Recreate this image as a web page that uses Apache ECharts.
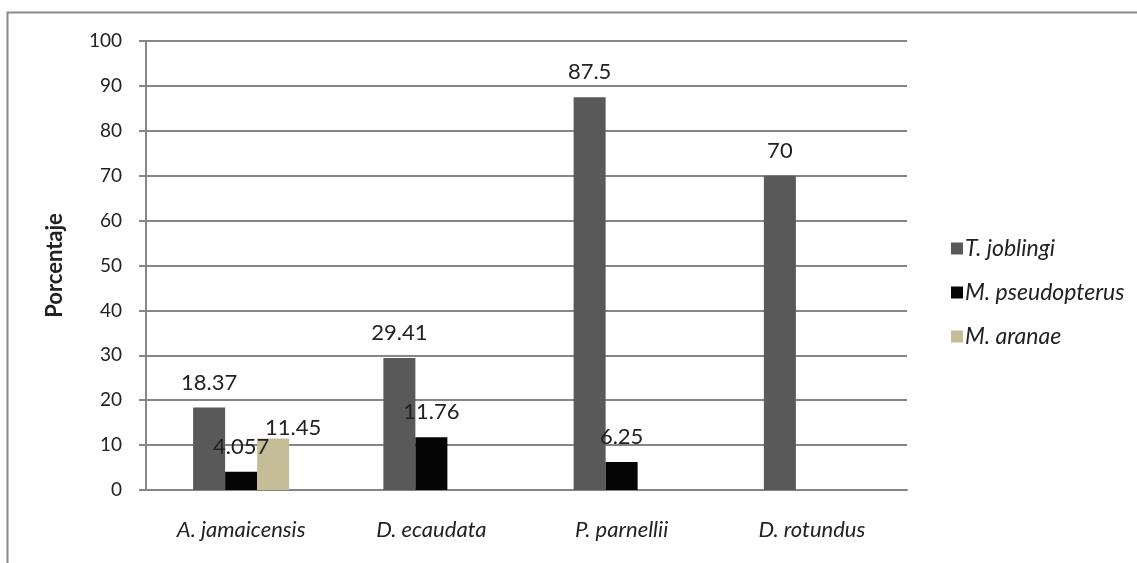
<!DOCTYPE html>
<html>
<head>
<meta charset="utf-8">
<script src="https://cdn.jsdelivr.net/npm/echarts@6/dist/echarts.min.js"></script>
<style>
  html, body { margin: 0; padding: 0; background: #fff; }
  #chart { width: 1137px; height: 563px; }
</style>
</head>
<body>
<div id="chart"></div>
<script>
// Bat species (x categories)
const species = ['A. jamaicensis', 'D. ecaudata', 'P. parnellii', 'D. rotundus'];

// Percentages per parasite species
const tJoblingi = [18.37, 29.41, 87.5, 70];
const mPseudopterus = [4.057, 11.76, 6.25, null];
const mAranae = [11.45, null, null, null];

const seriesNames = ['T. joblingi', 'M. pseudopterus', 'M. aranae'];
const seriesColors = ['#595959', '#050505', '#c4bd97'];

const yTicks = [0, 10, 20, 30, 40, 50, 60, 70, 80, 90, 100];

const FONT = 'Lato, "Open Sans", sans-serif';

const labelBase = {
  show: true,
  position: 'top',
  distance: 14,
  color: '#222',
  fontSize: 22,
  fontFamily: FONT
};

function toData(values, overrides) {
  return values.map((v, i) => {
    if (v === null) return null;
    const item = { value: v };
    if (overrides && overrides[i]) item.label = overrides[i];
    return item;
  });
}

const chart = echarts.init(document.getElementById('chart'), null, { renderer: 'canvas' });

chart.setOption({
  animation: false,
  backgroundColor: '#fff',
  graphic: [{
    type: 'rect',
    shape: { x: 7.5, y: 12.5, width: 1200, height: 600 },
    style: { fill: 'none', stroke: '#8a8a8a', lineWidth: 2 },
    silent: true
  }],
  grid: { left: 146, right: 230, top: 41, bottom: 73, containLabel: false },
  legend: {
    orient: 'vertical',
    left: 946,
    top: 232,
    itemWidth: 12,
    itemHeight: 12,
    itemGap: 21,
    icon: 'rect',
    data: seriesNames,
    textStyle: { fontSize: 23, fontStyle: 'italic', color: '#222', fontFamily: FONT, padding: [0, 0, 0, -3] }
  },
  xAxis: {
    type: 'category',
    data: species,
    axisLine: { lineStyle: { color: '#868686', width: 2 } },
    axisTick: { show: false },
    axisLabel: { fontSize: 22, fontStyle: 'italic', color: '#222', fontFamily: FONT, margin: 29 }
  },
  yAxis: {
    type: 'value',
    min: 0,
    max: 100,
    interval: 10,
    name: 'Porcentaje',
    nameLocation: 'middle',
    nameGap: 80,
    nameRotate: 90,
    nameTextStyle: { fontSize: 22, fontWeight: 'bold', color: '#222', fontFamily: FONT },
    axisLine: { show: true, lineStyle: { color: '#868686', width: 2 } },
    axisTick: { show: true, length: 7, lineStyle: { color: '#868686', width: 2 } },
    axisLabel: {
      fontSize: 19, color: '#222', fontFamily: FONT, margin: 24,
      formatter: v => (yTicks.includes(v) ? String(v) : '')
    },
    splitLine: { lineStyle: { color: '#868686', width: 2 } }
  },
  series: [
    {
      name: seriesNames[0],
      type: 'bar',
      barWidth: 32,
      barGap: '0%',
      itemStyle: { color: seriesColors[0] },
      label: labelBase,
      data: toData(tJoblingi)
    },
    {
      name: seriesNames[1],
      type: 'bar',
      barWidth: 32,
      barGap: '0%',
      itemStyle: { color: seriesColors[1] },
      label: labelBase,
      data: toData(mPseudopterus)
    },
    {
      name: seriesNames[2],
      type: 'bar',
      barWidth: 32,
      barGap: '0%',
      itemStyle: { color: seriesColors[2] },
      label: labelBase,
      data: toData(mAranae, [{ offset: [20, 14] }])
    }
  ]
});
</script>
</body>
</html>
